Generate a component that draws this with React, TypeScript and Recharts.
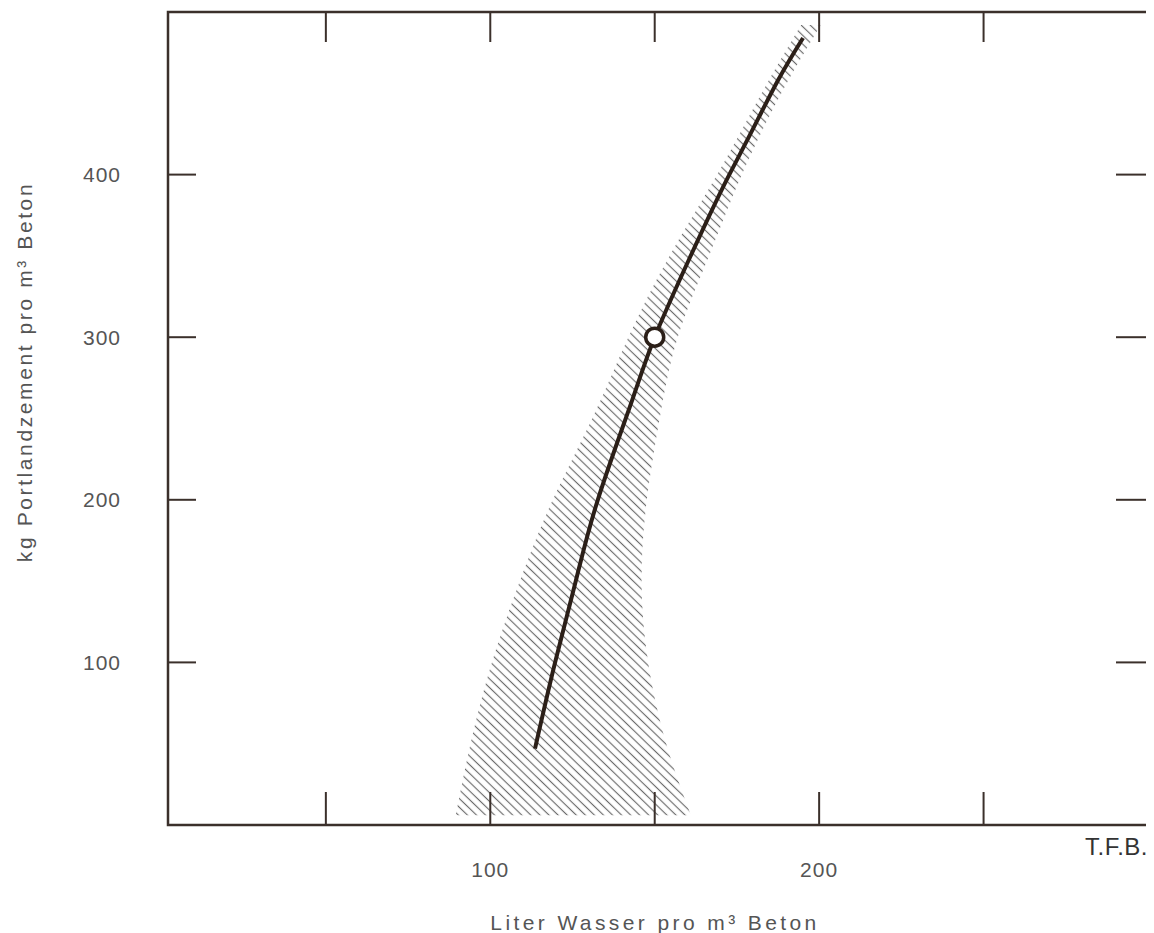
import { Area, ComposedChart, Line, ReferenceArea, ReferenceDot, XAxis, YAxis } from "recharts";

// cement content (kg/m3) where the curve was read
const curveLevels = [47, 100, 150, 200, 261, 300, 349, 392, 423, 458, 484];
// water demand (l/m3) of the curve at those levels
const curveWater = [113.6, 119.7, 126, 132.7, 143.1, 150, 160.7, 170.7, 178.6, 187.5, 195.1];

// hatched scatter band around the curve
const bandLevels = [6, 50, 100, 150, 200, 250, 300, 350, 400, 450, 492];
const bandLow = [89.5, 94, 100.5, 109, 119, 131, 142, 154.5, 169, 182.5, 194.5];
const bandHigh = [161, 153.5, 148, 146, 147.6, 151.5, 157, 166.5, 176.5, 188.5, 200.5];

const markWater = [150];
const markCement = [300];

const xTicks = [50, 100, 150, 200, 250];
const xLabelled = [100, 200];
const yTicks = [100, 200, 300, 400];

const curveData = curveLevels.map((level, i) => ({ level, water: curveWater[i] }));
const bandData = bandLevels.map((level, i) => ({ level, range: [bandLow[i], bandHigh[i]] }));

const W = 1146;
const H = 925;
const margin = { top: 4, right: 6, left: 0, bottom: 0 };
const yAxisWidth = 160;
const xAxisHeight = 108;
const plotTop = margin.top;
const plotRight = W - margin.right;
const xTickMargin = 37;
const yTickMargin = 47;

const ink = "#2b1f18";
const frame = "#3b302b";
const textGray = "#555";
const font = "'Liberation Sans', Arial, sans-serif";

function XTick(props: any) {
  const { x, y, payload } = props;
  const base = y - xTickMargin;
  const v = payload.value;
  return (
    <g>
      <line x1={x} x2={x} y1={base} y2={base - 33} stroke={frame} strokeWidth={2} />
      <line x1={x} x2={x} y1={plotTop} y2={plotTop + 30} stroke={frame} strokeWidth={2} />
      {xLabelled.includes(v) && (
        <text x={x} y={y} dy="0.71em" textAnchor="middle" fill={textGray} fontSize={21} fontFamily={font} letterSpacing={1}>
          {v}
        </text>
      )}
    </g>
  );
}

function YTick(props: any) {
  const { x, y, payload } = props;
  const base = x + yTickMargin;
  return (
    <g>
      <line x1={base} x2={base + 28} y1={y} y2={y} stroke={frame} strokeWidth={2} />
      <line x1={plotRight} x2={plotRight - 32} y1={y} y2={y} stroke={frame} strokeWidth={2} />
      <text x={x} y={y} dy="0.355em" textAnchor="end" fill={textGray} fontSize={21} fontFamily={font} letterSpacing={1}>
        {payload.value}
      </text>
    </g>
  );
}

export default function App() {
  return (
    <ComposedChart width={W} height={H} layout="vertical" margin={margin}>
      <defs>
        <pattern id="hatch" patternUnits="userSpaceOnUse" width={10} height={6.3} patternTransform="rotate(44)">
          <line x1={0} y1={3.15} x2={10} y2={3.15} stroke="#6a6a6a" strokeWidth={1.15} />
        </pattern>
      </defs>

      <XAxis
        xAxisId="main"
        type="number"
        orientation="bottom"
        domain={[2, 300]}
        ticks={xTicks}
        height={xAxisHeight}
        tickSize={0}
        tickMargin={xTickMargin}
        tickLine={false}
        axisLine={false}
        tick={<XTick />}
      />
      <YAxis
        yAxisId="main"
        type="number"
        dataKey="level"
        orientation="left"
        reversed
        domain={[0, 500]}
        ticks={yTicks}
        width={yAxisWidth}
        tickSize={0}
        tickMargin={yTickMargin}
        tickLine={false}
        axisLine={false}
        tick={<YTick />}
      />

      <Area
        xAxisId="main"
        yAxisId="main"
        data={bandData}
        dataKey="range"
        type="natural"
        stroke="none"
        fill="url(#hatch)"
        fillOpacity={1}
        isAnimationActive={false}
      />
      <Line
        xAxisId="main"
        yAxisId="main"
        data={curveData}
        dataKey="water"
        type="natural"
        stroke={ink}
        strokeWidth={4}
        dot={false}
        activeDot={false}
        isAnimationActive={false}
      />
      <ReferenceArea
        xAxisId="main"
        yAxisId="main"
        x1={2}
        x2={300}
        y1={0}
        y2={500}
        fill="none"
        fillOpacity={0}
        stroke={frame}
        strokeWidth={2.5}
        ifOverflow="visible"
      />
      <ReferenceDot
        xAxisId="main"
        yAxisId="main"
        x={markWater[0]}
        y={markCement[0]}
        r={9}
        fill="#fff"
        stroke={ink}
        strokeWidth={3.5}
      />

      <text
        x={17}
        y={364}
        dy="0.35em"
        transform="rotate(-90, 17, 364)"
        textAnchor="middle"
        fill={textGray}
        fontSize={21}
        fontFamily={font}
        letterSpacing={2.6}
      >
        kg Portlandzement pro m³ Beton
      </text>
      <text
        x={647}
        y={922}
        textAnchor="middle"
        fill={textGray}
        fontSize={21}
        fontFamily={font}
        letterSpacing={3.4}
      >
        Liter Wasser pro m³ Beton
      </text>
      <text x={1077} y={847} fill="#333" fontSize={24} fontFamily={font} letterSpacing={0.5}>
        T.F.B.
      </text>
    </ComposedChart>
  );
}
